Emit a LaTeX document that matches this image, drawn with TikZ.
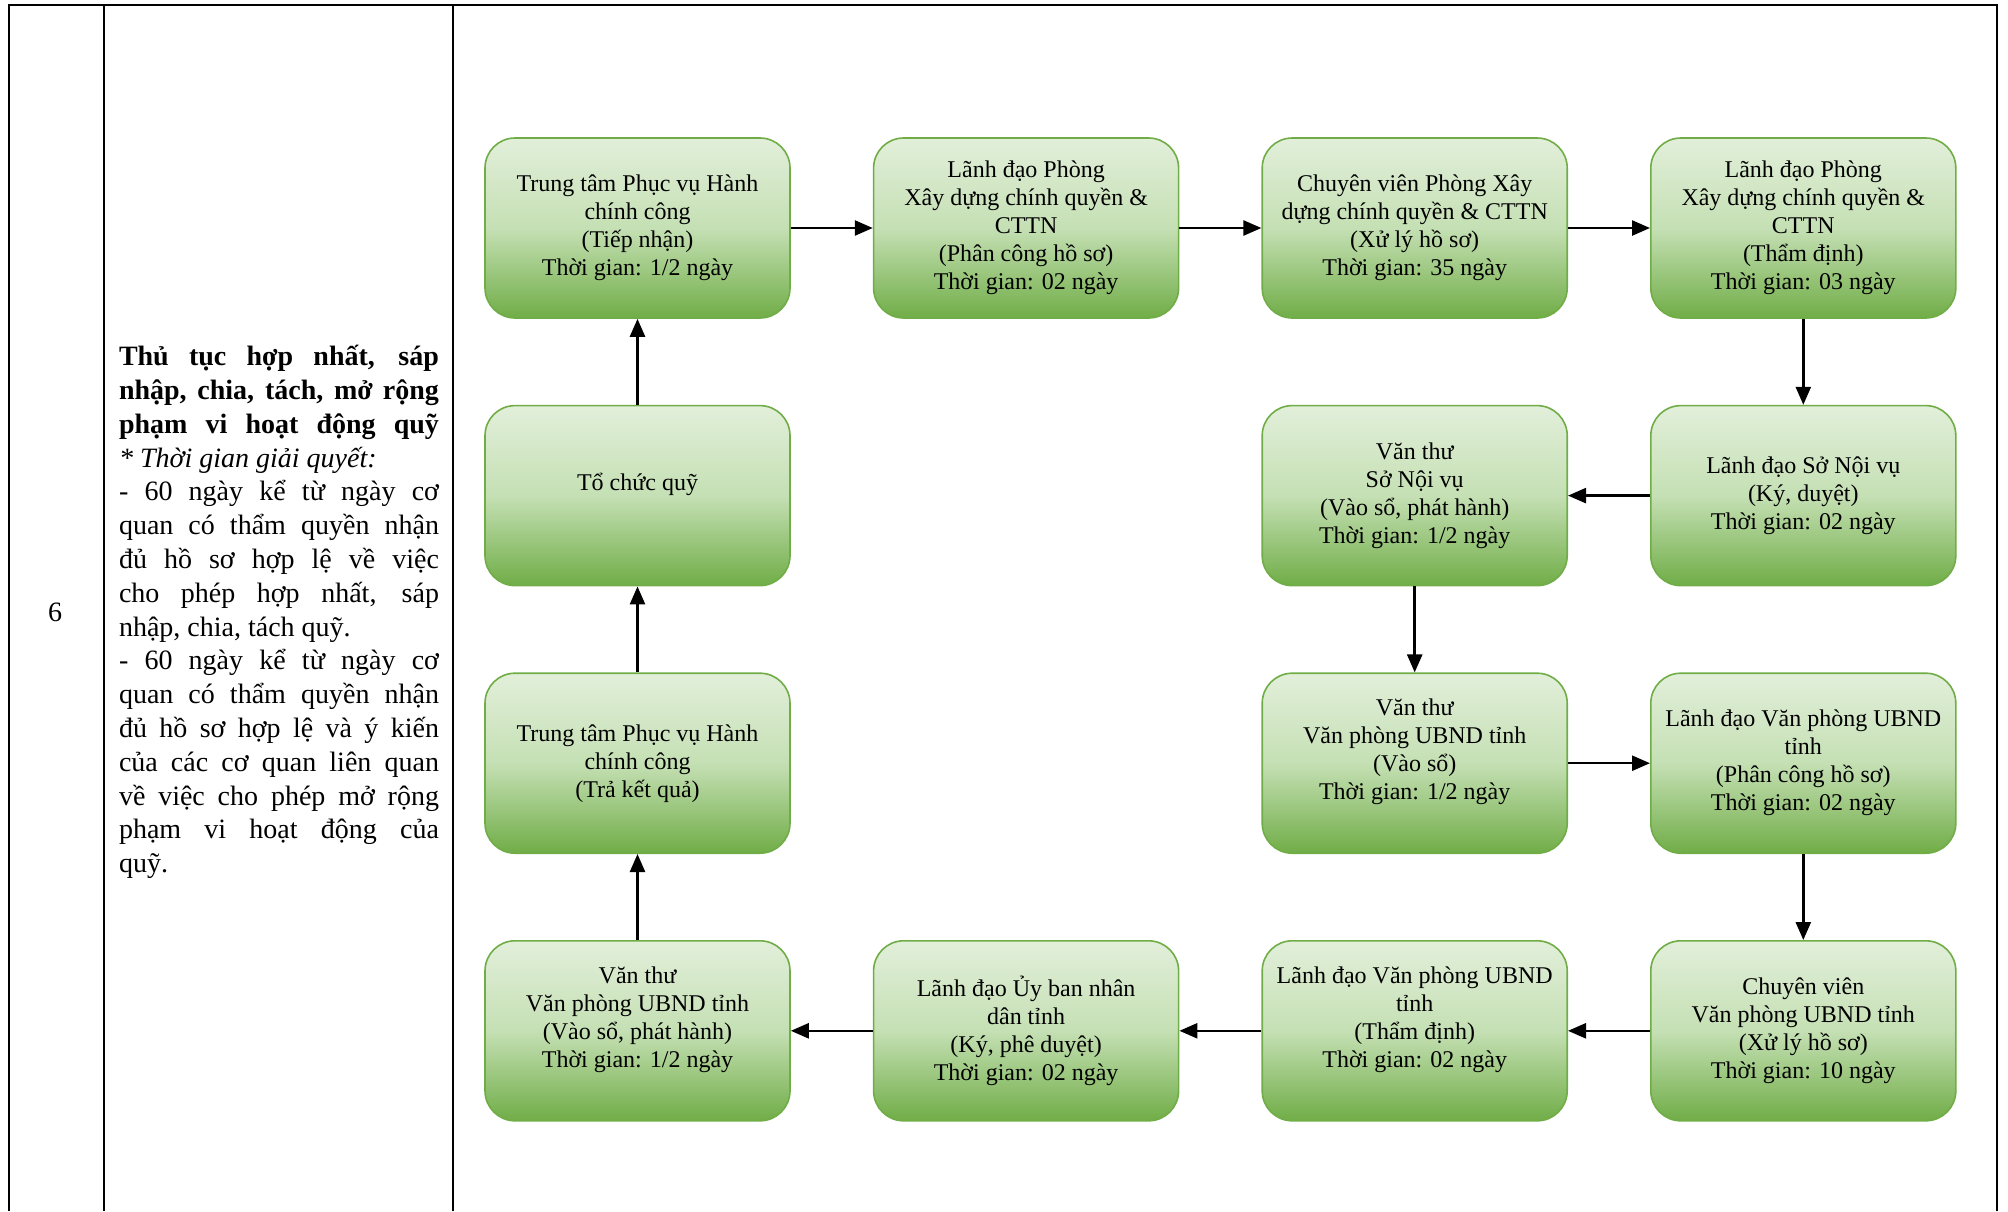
\documentclass[tikz,border=0pt]{standalone}
\usepackage{fontspec}
\setmainfont{Liberation Serif}
\usepackage{tikz}
\usetikzlibrary{arrows.meta,positioning}

\definecolor{boxtop}{HTML}{E2EFDA}
\definecolor{boxmid}{HTML}{C5E0B4}
\definecolor{boxbot}{HTML}{70AD47}
\definecolor{boxline}{HTML}{70AD47}

\begin{document}
\begin{tikzpicture}[x=0.5pt,y=-0.5pt,->,>={Triangle[length=9pt,width=7.5pt]},
										line width=1.25pt,node distance=43pt and 41pt]
	\tikzstyle{buoc}=[draw=boxline,line width=0.8pt,rounded corners=15pt,
		top color=boxtop,bottom color=boxbot,middle color=boxmid,
		minimum width=152.5pt,minimum height=90pt,align=center,
		font=\fontsize{12}{14}\selectfont]

	\useasboundingbox (0,0) rectangle (2008,1211);

	% khung bang
	\draw[-] (9,1211) -- (9,5) -- (1997,5) -- (1997,1211);
	\draw[-] (104,5) -- (104,1211);
	\draw[-] (453,5) -- (453,1211);

	\node (stt) at (55,612) {\fontsize{14}{17}\selectfont 6};
	\node[text width=160pt,align=justify,inner sep=0pt,
		font=\fontsize{14}{16.9}\selectfont] (thutuc) at (279,612)
		{\textbf{Thủ tục hợp nhất, sáp\linebreak nhập, chia, tách, mở rộng\linebreak
		phạm vi hoạt động quỹ}\linebreak \textit{* Thời gian giải quyết:}\\
		- 60 ngày kể từ ngày cơ\linebreak quan có thẩm quyền nhận\linebreak
		đủ hồ sơ hợp lệ về việc\linebreak cho phép hợp nhất, sáp\linebreak
		nhập, chia, tách quỹ.\\
		- 60 ngày kể từ ngày cơ\linebreak quan có thẩm quyền nhận\linebreak
		đủ hồ sơ hợp lệ và ý kiến\linebreak của các cơ quan liên quan\linebreak
		về việc cho phép mở rộng\linebreak phạm vi hoạt động của\linebreak quỹ.};

	% hang 1
	\node[buoc] (tiepnhan) at (637.5,228)
		{Trung tâm Phục vụ Hành\\chính công\\(Tiếp nhận)\\Thời gian: 1/2 ngày};
	\node[buoc] (phancong) [right=of tiepnhan]
		{Lãnh đạo Phòng\\Xây dựng chính quyền \&\\CTTN\\(Phân công hồ sơ)\\Thời gian: 02 ngày};
	\node[buoc] (xuly) [right=of phancong]
		{Chuyên viên Phòng Xây\\dựng chính quyền \& CTTN\\(Xử lý hồ sơ)\\Thời gian: 35 ngày};
	\node[buoc] (thamdinh) [right=of xuly]
		{Lãnh đạo Phòng\\Xây dựng chính quyền \&\\CTTN\\(Thẩm định)\\Thời gian: 03 ngày};

	% hang 2
	\node[buoc] (kyduyet) [below=of thamdinh]
		{Lãnh đạo Sở Nội vụ\\(Ký, duyệt)\\Thời gian: 02 ngày};
	\node[buoc] (vanthuso) [left=of kyduyet]
		{Văn thư\\Sở Nội vụ\\(Vào sổ, phát hành)\\Thời gian: 1/2 ngày};
	\node[buoc] (tochuc) [below=of tiepnhan] {Tổ chức quỹ\\ \mbox{}};

	% hang 3
	\node[buoc] (vaoso) [below=of vanthuso]
		{Văn thư\\Văn phòng UBND tỉnh\\(Vào sổ)\\Thời gian: 1/2 ngày\\ \mbox{}};
	\node[buoc] (phancongvp) [below=of kyduyet]
		{Lãnh đạo Văn phòng UBND\\tỉnh\\(Phân công hồ sơ)\\Thời gian: 02 ngày};
	\node[buoc] (trakq) [below=of tochuc]
		{Trung tâm Phục vụ Hành\\chính công\\(Trả kết quả)};

	% hang 4
	\node[buoc] (chuyenvien) [below=of phancongvp]
		{Chuyên viên\\Văn phòng UBND tỉnh\\(Xử lý hồ sơ)\\Thời gian: 10 ngày};
	\node[buoc] (thamdinhvp) [below=of vaoso]
		{Lãnh đạo Văn phòng UBND\\tỉnh\\(Thẩm định)\\Thời gian: 02 ngày\\ \mbox{}};
	\node[buoc] (pheduyet) [left=of thamdinhvp]
		{Lãnh đạo Ủy ban nhân\\dân tỉnh\\(Ký, phê duyệt)\\Thời gian: 02 ngày};
	\node[buoc] (phathanh) [below=of trakq]
		{Văn thư\\Văn phòng UBND tỉnh\\(Vào sổ, phát hành)\\Thời gian: 1/2 ngày\\ \mbox{}};

	\path (tiepnhan) edge (phancong)
				(phancong) edge (xuly)
				(xuly) edge (thamdinh)
				(thamdinh) edge (kyduyet)
				(kyduyet) edge (vanthuso)
				(vanthuso) edge (vaoso)
				(vaoso) edge (phancongvp)
				(phancongvp) edge (chuyenvien)
				(chuyenvien) edge (thamdinhvp)
				(thamdinhvp) edge (pheduyet)
				(pheduyet) edge (phathanh)
				(phathanh) edge (trakq)
				(trakq) edge (tochuc)
				(tochuc) edge (tiepnhan);
\end{tikzpicture}
\end{document}
